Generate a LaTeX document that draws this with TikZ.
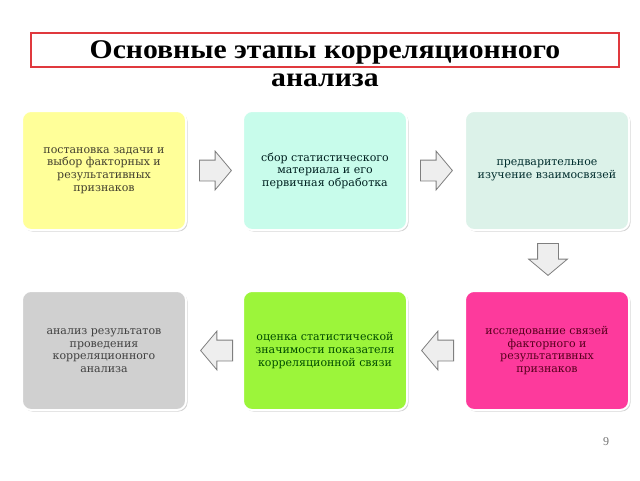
\documentclass[tikz,border=0pt]{standalone}
\usepackage{fontspec}
\setmainfont{Liberation Serif}
\newfontfamily\stagefont{DejaVu Serif}
\newfontfamily\titlefont[FakeStretch=1.1]{Liberation Serif}
\usetikzlibrary{positioning,shapes.arrows,shadows,calc}

\definecolor{titlered}{HTML}{E0393E}
\definecolor{yellowfill}{HTML}{FFFF99}
\definecolor{mintfill}{HTML}{C8FCEB}
\definecolor{palefill}{HTML}{DCF2E9}
\definecolor{greyfill}{HTML}{D0D0D0}
\definecolor{limefill}{HTML}{9CF53A}
\definecolor{pinkfill}{HTML}{FD3A9C}
\definecolor{arrowfill}{HTML}{EEEEEE}
\definecolor{arrowline}{HTML}{7F7F7F}

\begin{document}
\begin{tikzpicture}[x=1pt,y=-1pt,node distance=55pt,
    stage node/.style={rectangle,rounded corners=9pt,draw=white,line width=2pt,
      minimum width=164pt,minimum height=119pt,align=center,
      font=\stagefont\fontsize{11}{12.6}\selectfont,
      drop shadow={opacity=0.35,shadow xshift=1.5pt,shadow yshift=-1.5pt}},
    block arrow/.style={single arrow,draw=arrowline,fill=arrowfill,line width=0.8pt,
      minimum height=32pt,inner xsep=0pt,inner ysep=10pt,anchor=tail,
      single arrow head extend=9pt,single arrow tip angle=100}]
  \useasboundingbox (0,0) rectangle (640,480);

  % title
  \node[draw=titlered,line width=1.3pt,minimum width=588pt,minimum height=34pt,
        inner sep=0pt] (frame) at (325,50) {};
  \node[anchor=base,align=center,inner sep=0pt,
        font=\titlefont\bfseries\fontsize{27}{28}\selectfont] (title) at (325,86)
        {Основные этапы корреляционного\\анализа};

  % stages
  \node[stage node,fill=yellowfill,text=black!70!olive] (s1) at (104,170.5)
        {постановка задачи и\\выбор факторных и\\результативных\\признаков};
  \node[stage node,fill=mintfill,text=black!75!teal] (s2) [right=of s1]
        {сбор статистического\\материала и его\\первичная обработка};
  \node[stage node,fill=palefill,text=black!65!teal] (s3) [right=56pt of s2]
        {предварительное\\изучение взаимосвязей};
  \node[stage node,fill=pinkfill,text=black!55!purple] (s6) [below=59pt of s3]
        {исследование связей\\факторного и\\результативных\\признаков};
  \node[stage node,fill=limefill,text=black!70!green] (s5) [left=56pt of s6]
        {оценка статистической\\значимости показателя\\корреляционной связи};
  \node[stage node,fill=greyfill,text=black!75] (s4) [left=of s5]
        {анализ результатов\\проведения\\корреляционного\\анализа};

  % block arrows
  \node[block arrow] (a12) at ($(s1.east)+(12,0)$) {};
  \node[block arrow] (a23) at ($(s2.east)+(12,0)$) {};
  \node[block arrow,rotate=-90] (a36) at ($(s3.south)+(1,12)$) {};
  \node[block arrow,rotate=180] (a65) at ($(s6.west)+(-10,0)$) {};
  \node[block arrow,rotate=180] (a54) at ($(s5.west)+(-9,0)$) {};

  \node[text=black!55,font=\fontsize{12}{14}\selectfont] (page) at (606,442) {9};
\end{tikzpicture}
\end{document}
